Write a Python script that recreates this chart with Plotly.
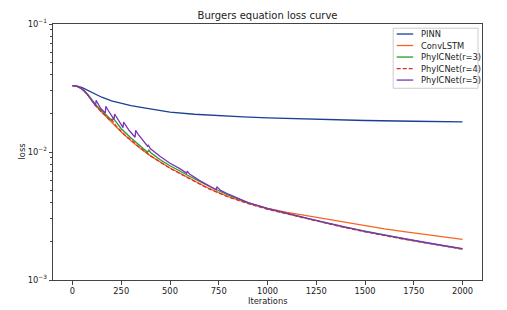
import plotly.graph_objects as go

# ---- data ----
pinn_iter = [0, 25, 50, 75, 100, 125, 150, 200, 250, 300, 375, 450, 500, 625, 750, 875, 1000, 1250, 1500, 1750, 2000]
pinn_loss = [0.03296, 0.03273, 0.03184, 0.03055, 0.02917, 0.02786, 0.02679, 0.02512, 0.02399, 0.02301, 0.02198,
             0.02104, 0.02051, 0.01972, 0.01919, 0.01879, 0.01849, 0.01799, 0.01762, 0.01738, 0.01718]

conv_iter = [0, 20, 40, 60, 80, 100, 120, 150, 200, 250, 300, 350, 400, 450, 500, 600, 700, 800, 900, 1000,
             1100, 1200, 1300, 1400, 1500, 1600, 1700, 1800, 1900, 2000]
conv_loss = [0.03296, 0.03266, 0.03177, 0.03006, 0.02780, 0.02523, 0.02291, 0.02051, 0.01714, 0.01435, 0.01225,
             0.01059, 0.00933, 0.00832, 0.00750, 0.00624, 0.00519, 0.00447, 0.00398, 0.00363,
             0.00337, 0.00318, 0.00299, 0.00280, 0.00264, 0.00251, 0.00239, 0.00228, 0.00218, 0.00208]

r3_iter = [0, 20, 40, 60, 80, 100, 120, 150, 200, 210, 225, 250, 300, 350, 385, 392, 400, 450, 500, 600, 700, 800,
           900, 1000, 1100, 1200, 1300, 1400, 1500, 1600, 1700, 1800, 1900, 2000]
r3_loss = [0.03296, 0.03266, 0.03170, 0.03006, 0.02786, 0.02541, 0.02333, 0.02113, 0.01770, 0.01828, 0.01698,
           0.01521, 0.01288, 0.01109, 0.00995, 0.01035, 0.00989, 0.00871, 0.00780, 0.00646, 0.00540, 0.00460,
           0.00403, 0.00360, 0.00330, 0.00303, 0.00280, 0.00258, 0.00240, 0.00224, 0.00210, 0.00197, 0.00186, 0.00175]

r4_iter = [0, 20, 40, 60, 80, 100, 120, 150, 175, 190, 200, 225, 250, 275, 300, 350, 400, 450, 500, 600, 700, 800,
           900, 1000, 1100, 1200, 1300, 1400, 1500, 1600, 1700, 1800, 1900, 2000]
r4_loss = [0.03296, 0.03266, 0.03170, 0.02992, 0.02767, 0.02512, 0.02280, 0.02032, 0.01897, 0.01770, 0.01799,
           0.01585, 0.01452, 0.01324, 0.01245, 0.01067, 0.00933, 0.00832, 0.00746, 0.00619, 0.00515, 0.00445,
           0.00395, 0.00357, 0.00328, 0.00302, 0.00278, 0.00256, 0.00238, 0.00222, 0.00208, 0.00196, 0.00185, 0.00174]

r5_iter = [0, 20, 40, 60, 80, 100, 118, 121, 130, 145, 168, 171, 180, 195, 213, 216, 225, 240, 259, 262, 272, 290,
           321, 324, 335, 350, 385, 388, 400, 450, 500, 550, 585, 588, 600, 650, 700, 737, 740, 760, 800, 900,
           1000, 1100, 1200, 1300, 1400, 1500, 1600, 1700, 1800, 1900, 2000]
r5_loss = [0.03296, 0.03266, 0.03170, 0.02999, 0.02773, 0.02523, 0.02301, 0.02529, 0.02371, 0.02188, 0.02018,
           0.02270, 0.02148, 0.01972, 0.01799, 0.01982, 0.01884, 0.01718, 0.01549, 0.01714, 0.01622, 0.01479,
           0.01303, 0.01476, 0.01387, 0.01294, 0.01109, 0.01135, 0.01059, 0.00923, 0.00817, 0.00741, 0.00684,
           0.00708, 0.00673, 0.00600, 0.00540, 0.00507, 0.00535, 0.00501, 0.00468, 0.00403,
           0.00363, 0.00331, 0.00304, 0.00281, 0.00259, 0.00240, 0.00224, 0.00210, 0.00198, 0.00186, 0.00176]

series_names = ["PINN", "ConvLSTM", "PhyICNet(r=3)", "PhyICNet(r=4)", "PhyICNet(r=5)"]
x_ticks = [0, 250, 500, 750, 1000, 1250, 1500, 1750, 2000]
y_ticks = [0.001, 0.01, 0.1]
y_tick_text = ["10<sup>−3</sup>", "10<sup>−2</sup>", "10<sup>−1</sup>"]
y_minor = [m * 10 ** e for e in (-3, -2) for m in range(2, 10)]

FONT = "DejaVu Sans"
TXT = "#222222"
colors = ["#1a3f95", "#f5651f", "#2a9a2a", "#dc2f2f", "#7a35b8"]
dashes = ["solid", "solid", "solid", "4px,2px", "solid"]
data = [(pinn_iter, pinn_loss), (conv_iter, conv_loss), (r3_iter, r3_loss), (r4_iter, r4_loss), (r5_iter, r5_loss)]

# The page body has an 8px default margin: work in window pixels and subtract it.
OFF = 8
W, H = 507 - OFF, 310 - OFF
L, R, T, B = 53.3 - OFF, 481.7 - OFF, 24.3 - OFF, 280.0 - OFF
pw, ph = R - L, B - T

fig = go.Figure()
for name, (xs, ys), col, dash in zip(series_names, data, colors, dashes):
    fig.add_trace(go.Scatter(x=xs, y=ys, mode="lines", name=name, showlegend=False,
                             line=dict(color=col, width=1.3, dash=dash)))

# ---- matplotlib-like legend drawn in paper coordinates (window pixel positions) ----
def px2paper_x(px):
    return (px - OFF - L) / pw

def px2paper_y(py):
    return (B - (py - OFF)) / ph

shapes = [dict(type="rect", xref="paper", yref="paper",
               x0=px2paper_x(393.0), x1=px2paper_x(477.7), y0=px2paper_y(88.5), y1=px2paper_y(28.5),
               line=dict(color="#cccccc", width=1), fillcolor="white", layer="above")]
annotations = []
row0, row_step = 34.3, 11.5
for i, (name, col, dash) in enumerate(zip(series_names, colors, dashes)):
    yy = px2paper_y(row0 + i * row_step)
    shapes.append(dict(type="line", xref="paper", yref="paper", x0=px2paper_x(396.5), x1=px2paper_x(413.0),
                       y0=yy, y1=yy, line=dict(color=col, width=1.3, dash=dash), layer="above"))
    annotations.append(dict(text=name, xref="paper", yref="paper", x=px2paper_x(419.0), y=yy,
                            xanchor="left", yanchor="middle", showarrow=False,
                            font=dict(family=FONT, size=8.3, color=TXT)))

# axis titles as annotations for exact placement
annotations.append(dict(text="Iterations", xref="paper", yref="paper", x=0.5, y=px2paper_y(300.5),
                        xanchor="center", yanchor="middle", showarrow=False,
                        font=dict(family=FONT, size=8.3, color=TXT)))
annotations.append(dict(text="loss", xref="paper", yref="paper", x=px2paper_x(22.0), y=px2paper_y(152.0),
                        xanchor="center", yanchor="middle", showarrow=False, textangle=-90,
                        font=dict(family=FONT, size=8.3, color=TXT)))

axis_common = dict(showline=True, linecolor="#444", linewidth=1, mirror=True, showgrid=False,
                   zeroline=False, ticks="outside", ticklen=3.5, tickwidth=1, tickcolor="#444",
                   automargin=False, tickfont=dict(family=FONT, size=8.3, color=TXT))

fig.update_layout(
    width=W, height=H,
    margin=dict(l=L, r=W - R, t=T, b=H - B),
    paper_bgcolor="white", plot_bgcolor="white",
    font=dict(family=FONT, size=8.3, color=TXT),
    title=dict(text="Burgers equation loss curve", x=0.5, xref="paper", xanchor="center",
               y=1 - (15.7 - OFF) / H, yanchor="middle", font=dict(family=FONT, size=10, color=TXT)),
    xaxis=dict(range=[-100, 2100], tickvals=x_ticks, **axis_common),
    yaxis=dict(type="log", range=[-3, -1], tickvals=y_ticks, ticktext=y_tick_text,
               minor=dict(tickvals=y_minor, ticks="outside", ticklen=2, tickcolor="#444"),
               **axis_common),
    shapes=shapes,
    annotations=annotations,
    showlegend=False,
)

fig.write_html("out.html")
